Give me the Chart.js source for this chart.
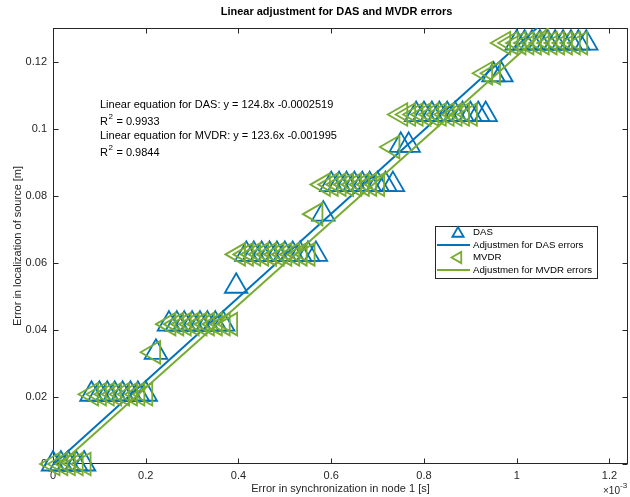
<!DOCTYPE html>
<html>
<head>
<meta charset="utf-8">
<script src="https://cdn.jsdelivr.net/npm/chart.js@4.4.1/dist/chart.umd.min.js"></script>
<style>
  html, body { margin: 0; padding: 0; background: #ffffff; }
  canvas { display: block; }
</style>
</head>
<body>
<canvas id="c" width="630" height="497"></canvas>
<script>
// Synchronization error in node 1, in units of 1e-3 s (axis carries the x10^-3 factor)
const dasX = [
  0, 0.017, 0.033, 0.05, 0.067,
  0.083, 0.1, 0.117, 0.133, 0.15, 0.167, 0.183, 0.2,
  0.222,
  0.25, 0.267, 0.283, 0.3, 0.317, 0.333, 0.35, 0.367,
  0.395,
  0.417, 0.433, 0.45, 0.467, 0.483, 0.5, 0.517, 0.533, 0.55, 0.567,
  0.583,
  0.6, 0.617, 0.633, 0.65, 0.667, 0.683, 0.7, 0.717, 0.733,
  0.75, 0.767,
  0.783, 0.8, 0.817, 0.833, 0.85, 0.867, 0.883, 0.9, 0.917, 0.933,
  0.95, 0.967,
  1.0, 1.017, 1.033, 1.05, 1.067, 1.083, 1.1, 1.117, 1.133, 1.15
];
// Localization error with DAS [m]
const dasY = [
  0, 0, 0, 0, 0,
  0.0208, 0.0208, 0.0208, 0.0208, 0.0208, 0.0208, 0.0208, 0.0208,
  0.0333,
  0.0417, 0.0417, 0.0417, 0.0417, 0.0417, 0.0417, 0.0417, 0.0417,
  0.053,
  0.0625, 0.0625, 0.0625, 0.0625, 0.0625, 0.0625, 0.0625, 0.0625, 0.0625, 0.0625,
  0.0745,
  0.0833, 0.0833, 0.0833, 0.0833, 0.0833, 0.0833, 0.0833, 0.0833, 0.0833,
  0.095, 0.095,
  0.1042, 0.1042, 0.1042, 0.1042, 0.1042, 0.1042, 0.1042, 0.1042, 0.1042, 0.1042,
  0.116, 0.116,
  0.1255, 0.1255, 0.1255, 0.1255, 0.1255, 0.1255, 0.1255, 0.1255, 0.1255, 0.1255
];
const mvdrX = [
  0, 0.017, 0.033, 0.05, 0.067,
  0.083, 0.1, 0.117, 0.133, 0.15, 0.167, 0.183, 0.2,
  0.217,
  0.25, 0.267, 0.283, 0.3, 0.317, 0.333, 0.35, 0.367, 0.383,
  0.4, 0.417, 0.433, 0.45, 0.467, 0.483, 0.5, 0.517, 0.533, 0.55,
  0.567,
  0.583, 0.6, 0.617, 0.633, 0.65, 0.667, 0.683, 0.7,
  0.733,
  0.75, 0.767, 0.783, 0.8, 0.817, 0.833, 0.85, 0.867, 0.883, 0.9,
  0.933, 0.95,
  0.972, 0.988, 1.005, 1.022, 1.038, 1.055, 1.072, 1.088, 1.105, 1.122, 1.138
];
// Localization error with MVDR [m]
const mvdrY = [
  0, 0, 0, 0, 0,
  0.0208, 0.0208, 0.0208, 0.0208, 0.0208, 0.0208, 0.0208, 0.0208,
  0.0333,
  0.0417, 0.0417, 0.0417, 0.0417, 0.0417, 0.0417, 0.0417, 0.0417, 0.0417,
  0.0625, 0.0625, 0.0625, 0.0625, 0.0625, 0.0625, 0.0625, 0.0625, 0.0625, 0.0625,
  0.0745,
  0.0833, 0.0833, 0.0833, 0.0833, 0.0833, 0.0833, 0.0833, 0.0833,
  0.0945,
  0.1042, 0.1042, 0.1042, 0.1042, 0.1042, 0.1042, 0.1042, 0.1042, 0.1042, 0.1042,
  0.1165, 0.1165,
  0.1255, 0.1255, 0.1255, 0.1255, 0.1255, 0.1255, 0.1255, 0.1255, 0.1255, 0.1255, 0.1255
];

// Least-squares fits (x in seconds): y = slope * x + intercept
const fitNames = ['DAS', 'MVDR'];
const fitSlopes = [124.8, 123.6];
const fitIntercepts = [-0.0002519, -0.001995];
const fitR2 = [0.9933, 0.9844];

const xTicks = [0, 0.2, 0.4, 0.6, 0.8, 1, 1.2];
const yTicks = [0, 0.02, 0.04, 0.06, 0.08, 0.1, 0.12];
const xRange = [0, 1.24];
const yRange = [0, 0.13];

const BLUE = '#0072BD';
const GREEN = '#77AC30';
const FONT = "'Liberation Sans', Arial, Helvetica, sans-serif";
const INK = '#262626';

const toPoints = (xs, ys) => xs.map((x, i) => ({ x, y: ys[i] }));

function fitLine(k, xs) {
  const x0 = Math.min(...xs), x1 = Math.max(...xs);
  return [x0, x1].map(x => ({ x, y: fitSlopes[k] * x * 1e-3 + fitIntercepts[k] }));
}

const datasets = [
  {
    label: 'DAS', data: toPoints(dasX, dasY),
    pointStyle: 'triangle', rotation: 0, pointRadius: 13,
    borderColor: BLUE, backgroundColor: 'rgba(0,0,0,0)',
    pointBorderWidth: 1.8, showLine: false, clip: false, order: 4
  },
  {
    label: 'Adjustmen for DAS errors', data: fitLine(0, dasX),
    borderColor: BLUE, backgroundColor: BLUE, borderWidth: 2,
    pointRadius: 0, showLine: true, order: 3
  },
  {
    label: 'MVDR', data: toPoints(mvdrX, mvdrY),
    pointStyle: 'triangle', rotation: -90, pointRadius: 13,
    borderColor: GREEN, backgroundColor: 'rgba(0,0,0,0)',
    pointBorderWidth: 1.8, showLine: false, clip: false, order: 2
  },
  {
    label: 'Adjustmen for MVDR errors', data: fitLine(1, mvdrX),
    borderColor: GREEN, backgroundColor: GREEN, borderWidth: 2,
    pointRadius: 0, showLine: true, order: 1
  }
];

function triangle(ctx, x, y, r, rotationDeg) {
  let rad = rotationDeg * Math.PI / 180;
  ctx.beginPath();
  for (let i = 0; i < 3; i++) {
    const px = x + Math.sin(rad) * r, py = y - Math.cos(rad) * r;
    if (i === 0) ctx.moveTo(px, py); else ctx.lineTo(px, py);
    rad += 2 * Math.PI / 3;
  }
  ctx.closePath();
  ctx.stroke();
}

// Text with a raised "2" after the leading "R"
function drawR2(ctx, x, y, rest) {
  ctx.font = '11px ' + FONT;
  ctx.fillText('R', x, y);
  const w = ctx.measureText('R').width;
  ctx.font = '8px ' + FONT;
  ctx.fillText('2', x + w + 0.5, y - 5);
  const w2 = ctx.measureText('2').width;
  ctx.font = '11px ' + FONT;
  ctx.fillText(rest, x + w + w2 + 1, y);
}

const framePlugin = {
  id: 'frame',
  beforeDatasetsDraw(chart) {
    const { ctx, chartArea: a, scales: { x, y } } = chart;
    ctx.save();
    ctx.strokeStyle = INK;
    ctx.lineWidth = 1;
    const L = Math.round(a.left) + 0.5, R = Math.round(a.right) - 0.5;
    const T = Math.round(a.top) + 0.5, B = Math.round(a.bottom) - 0.5;
    ctx.strokeRect(L, T, R - L, B - T);
    ctx.beginPath();
    const tl = 5;
    xTicks.forEach(v => {
      const px = Math.round(x.getPixelForValue(v)) + 0.5;
      ctx.moveTo(px, B); ctx.lineTo(px, B - tl);
      ctx.moveTo(px, T); ctx.lineTo(px, T + tl);
    });
    yTicks.forEach(v => {
      const py = Math.round(y.getPixelForValue(v)) + 0.5;
      ctx.moveTo(L, py); ctx.lineTo(L + tl, py);
      ctx.moveTo(R, py); ctx.lineTo(R - tl, py);
    });
    ctx.stroke();

    // x tick labels, placed through the x scale
    ctx.fillStyle = INK;
    ctx.font = '11px ' + FONT;
    ctx.textAlign = 'center';
    ctx.textBaseline = 'middle';
    xTicks.forEach(v => {
      ctx.fillText(String(v), x.getPixelForValue(v), a.bottom + 11.5);
    });
    ctx.restore();
  },
  afterDraw(chart) {
    const { ctx, chartArea: a } = chart;
    ctx.save();

    // Title centred over the axes
    ctx.fillStyle = '#000';
    ctx.font = 'bold 11px ' + FONT;
    ctx.textAlign = 'center';
    ctx.textBaseline = 'middle';
    ctx.fillText('Linear adjustment for DAS and MVDR errors', (a.left + a.right) / 2 - 4, 12);

    // Exponent of the x axis
    ctx.fillStyle = INK;
    ctx.textAlign = 'left';
    ctx.font = '10px ' + FONT;
    ctx.fillText('\u00d710', 603, 491);
    ctx.font = '8px ' + FONT;
    ctx.fillText('-3', 620, 486);

    // Fit equations
    ctx.fillStyle = '#000';
    const tx = 100;
    const rows = [105, 122, 136, 153];
    fitNames.forEach((name, k) => {
      const sign = fitIntercepts[k] < 0 ? '-' : '+';
      ctx.font = '11px ' + FONT;
      ctx.fillText('Linear equation for ' + name + ': y = ' + fitSlopes[k] + 'x ' + sign +
        String(Math.abs(fitIntercepts[k])), tx, rows[2 * k]);
      drawR2(ctx, tx, rows[2 * k + 1], ' = ' + fitR2[k]);
    });

    // Legend
    const lx = 435, ly = 226, lw = 162, lh = 52;
    ctx.fillStyle = '#fff';
    ctx.fillRect(lx, ly, lw, lh);
    ctx.strokeStyle = INK;
    ctx.lineWidth = 1;
    ctx.strokeRect(lx + 0.5, ly + 0.5, lw, lh);
    chart.data.datasets.forEach((ds, i) => {
      const ry = ly + 6.5 + i * 12.5;
      ctx.strokeStyle = ds.borderColor;
      if (ds.showLine) {
        ctx.lineWidth = 2;
        ctx.beginPath();
        ctx.moveTo(437, ry); ctx.lineTo(470, ry);
        ctx.stroke();
      } else {
        ctx.lineWidth = 1.8;
        triangle(ctx, 458, ry + (ds.rotation ? 0 : 1), 6.5, ds.rotation);
      }
      ctx.fillStyle = '#000';
      ctx.font = '9.7px ' + FONT;
      ctx.textBaseline = 'middle';
      ctx.fillText(ds.label, 473, ry);
    });
    ctx.restore();
  }
};

new Chart(document.getElementById('c'), {
  type: 'scatter',
  data: { datasets },
  options: {
    responsive: false,
    animation: false,
    events: [],
    layout: { autoPadding: false, padding: { top: 28, right: 2, left: 0, bottom: 0 } },
    plugins: {
      legend: { display: false },
      title: { display: false },
      tooltip: { enabled: false }
    },
    scales: {
      x: {
        type: 'linear', min: xRange[0], max: xRange[1],
        afterBuildTicks: s => { s.ticks = xTicks.map(v => ({ value: v })); },
        afterFit: s => { s.height = 33; },
        grid: { display: false, drawTicks: false },
        border: { display: false },
        ticks: { display: false },
        title: {
          display: true, text: 'Error in synchronization in node 1 [s]',
          color: INK, font: { family: FONT, size: 11 }, padding: { top: 0, bottom: 1.5 }
        }
      },
      y: {
        type: 'linear', min: yRange[0], max: yRange[1],
        afterBuildTicks: s => { s.ticks = yTicks.map(v => ({ value: v })); },
        afterFit: s => { s.width = 53; },
        grid: { display: false, drawTicks: false },
        border: { display: false },
        ticks: {
          padding: 6, color: INK, font: { family: FONT, size: 11 },
          autoSkip: false, callback: v => String(v)
        },
        title: {
          display: true, text: 'Error in localization of source [m]',
          color: INK, font: { family: FONT, size: 11 }, padding: { top: 11.4, bottom: 0 }
        }
      }
    }
  },
  plugins: [framePlugin]
});
</script>
</body>
</html>
